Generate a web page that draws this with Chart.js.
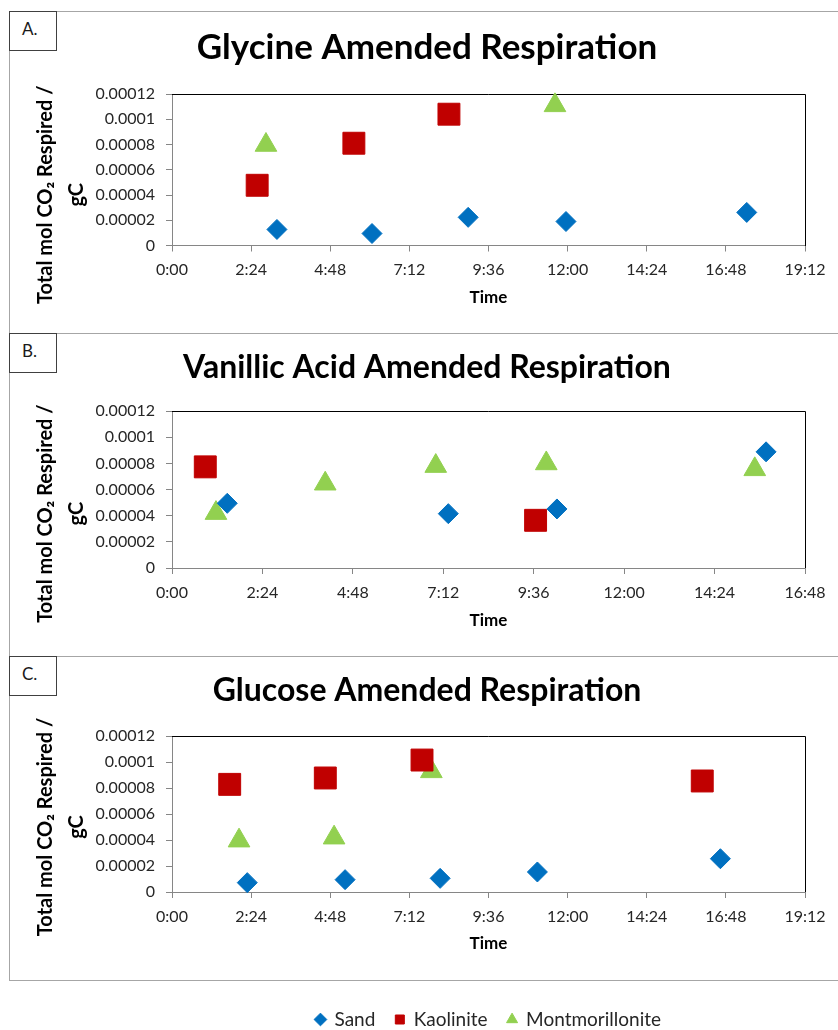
<!DOCTYPE html>
<html>
<head>
<meta charset="utf-8">
<script src="https://cdn.jsdelivr.net/npm/chart.js@4.4.1/dist/chart.umd.min.js"></script>
<style>
  body { margin: 0; width: 838px; height: 1030px; overflow: hidden; background: #fff; position: relative; font-family: Lato, sans-serif; }
  .frame { position: absolute; left: 9px; top: 11px; width: 840px; height: 970px; border: 1px solid #a6a6a6; border-right: none; box-sizing: border-box; }
  .divider { position: absolute; left: 9px; width: 840px; border-top: 1px solid #a6a6a6; }
  .tag { position: absolute; left: 9px; width: 48px; height: 40px; border: 1px solid #404040; box-sizing: border-box; background: #fff; font-size: 17px; color: #1a1a1a; padding: 6px 0 0 12px; }
  canvas { position: absolute; left: 9px; }
</style>
</head>
<body>
<div class="frame"></div>
<div class="divider" style="top:333px"></div>
<div class="divider" style="top:656px"></div>
<div class="tag" style="top:11px">A.</div>
<div class="tag" style="top:333px">B.</div>
<div class="tag" style="top:656px">C.</div>
<canvas id="chartA" width="836" height="322" style="top:11px"></canvas>
<canvas id="chartB" width="836" height="323" style="top:333px"></canvas>
<canvas id="chartC" width="836" height="382" style="top:657px"></canvas>
<script>
// time in minutes since start, values in total mol CO2 respired / gC
const SERIES = ['Sand', 'Kaolinite', 'Montmorillonite'];

const GLY_SAND_X = [191, 364, 539, 717, 1046];
const GLY_SAND_Y = [0.0000127, 0.0000095, 0.0000223, 0.000019, 0.0000262];
const GLY_KAO_X = [155, 331, 504];
const GLY_KAO_Y = [0.0000477, 0.000081, 0.000104];
const GLY_MONT_X = [171, 697];
const GLY_MONT_Y = [0.0000796, 0.000111];

const VAN_SAND_X = [88, 440, 613, 946];
const VAN_SAND_Y = [0.0000495, 0.0000416, 0.0000452, 0.0000889];
const VAN_KAO_X = [53, 579];
const VAN_KAO_Y = [0.0000774, 0.0000365];
const VAN_MONT_X = [70, 244, 420, 596, 928];
const VAN_MONT_Y = [0.000042, 0.0000645, 0.000078, 0.00008, 0.0000755];

const GLU_SAND_X = [137, 315, 488, 665, 998];
const GLU_SAND_Y = [0.0000072, 0.0000095, 0.0000105, 0.0000154, 0.0000256];
const GLU_KAO_X = [105, 279, 455, 965];
const GLU_KAO_Y = [0.0000828, 0.0000877, 0.0001015, 0.0000854];
const GLU_MONT_X = [122, 295, 472];
const GLU_MONT_Y = [0.0000395, 0.0000418, 0.0000928];

const X_TICKS_LONG = ['0:00', '2:24', '4:48', '7:12', '9:36', '12:00', '14:24', '16:48', '19:12'];
const X_TICKS_SHORT = ['0:00', '2:24', '4:48', '7:12', '9:36', '12:00', '14:24', '16:48'];
const Y_TICKS = ['0', '0.00002', '0.00004', '0.00006', '0.00008', '0.0001', '0.00012'];
const Y_TITLE = ['Total mol CO\u2082 Respired /', 'gC'];

const FONT = 'Lato';
const STYLES = [
  { color: '#0070C0', pointStyle: 'rectRot', radius: 10 },
  { color: '#C00000', pointStyle: 'rect', radius: 15.5 },
  { color: '#92D050', pointStyle: 'triangle', radius: 12.5 }
];

const pts = (xs, ys) => xs.map((x, i) => ({ x, y: ys[i] }));

// y axis title, placed like the Excel one (not centred on the plot)
const yTitlePlugin = {
  id: 'yTitle',
  afterDraw(chart, args, opts) {
    const { ctx, chartArea } = chart;
    const dy = Number(opts.offsetY) || 0;
    ctx.save();
    ctx.translate(opts.left, (chartArea.top + chartArea.bottom) / 2 + dy);
    ctx.rotate(-Math.PI / 2);
    ctx.font = `bold 20px ${FONT}`;
    ctx.fillStyle = '#000';
    ctx.textAlign = 'center';
    ctx.textBaseline = 'middle';
    Y_TITLE.forEach((line, i) => ctx.fillText(line, 0, i * 31));
    ctx.restore();
  }
};

// dark top and right edge of the plot area
const plotBorder = {
  id: 'plotBorder',
  beforeDatasetsDraw(chart) {
    const { ctx, chartArea: { left, top, right, bottom } } = chart;
    ctx.save();
    ctx.strokeStyle = '#000';
    ctx.lineWidth = 1;
    ctx.beginPath();
    ctx.moveTo(Math.round(left), Math.round(top) + 0.5);
    ctx.lineTo(Math.round(right) + 0.5, Math.round(top) + 0.5);
    ctx.lineTo(Math.round(right) + 0.5, Math.round(bottom));
    ctx.stroke();
    ctx.restore();
  }
};

const makeChart = (id, p) => {
  const datasets = p.series.map((s, i) => ({
    label: SERIES[i],
    data: pts(s[0], s[1]),
    backgroundColor: STYLES[i].color,
    borderColor: STYLES[i].color,
    borderWidth: 1,
    pointStyle: STYLES[i].pointStyle,
    pointRadius: STYLES[i].radius,
    clip: false
  }));

  return new Chart(document.getElementById(id), {
    type: 'scatter',
    data: { datasets },
    plugins: [yTitlePlugin, plotBorder],
    options: {
      responsive: false,
      animation: false,
      layout: { padding: { left: 40, right: 40 } },
      plugins: {
        tooltip: { enabled: false },
        title: {
          display: true,
          text: p.title,
          color: '#000',
          font: { family: FONT, size: p.titleSize, weight: 'bold' },
          padding: { top: p.titlePad[0], bottom: p.titlePad[1] }
        },
        legend: p.legend ? {
          display: true,
          position: 'bottom',
          fullSize: false,
          labels: {
            usePointStyle: true,
            boxHeight: 9,
            boxWidth: 9,
            padding: 20,
            color: '#262626',
            font: { family: FONT, size: 19 }
          }
        } : { display: false },
        yTitle: { left: 37, offsetY: p.yShift }
      },
      scales: {
        x: {
          type: 'linear',
          min: 0,
          max: (p.xTicks.length - 1) * 144,
          afterFit: s => { s.height = p.xHeight; },
          grid: { drawOnChartArea: false, drawTicks: true, tickLength: 6, color: '#868686' },
          border: { display: true, color: '#868686' },
          ticks: {
            stepSize: 144,
            autoSkip: false,
            maxRotation: 0,
            padding: 9,
            color: '#262626',
            font: { family: FONT, size: 16 },
            callback: (v, i) => p.xTicks[i]
          },
          title: {
            display: true,
            text: 'Time',
            color: '#000',
            font: { family: FONT, size: 17, weight: 'bold' },
            padding: { top: 0, bottom: p.timePad }
          }
        },
        y: {
          min: 0,
          max: 0.00012,
          afterFit: s => { s.width = 123; },
          grid: { drawOnChartArea: false, drawTicks: true, tickLength: 6, color: '#868686' },
          border: { display: true, color: '#868686' },
          ticks: {
            stepSize: 0.00002,
            padding: 11,
            color: '#262626',
            font: { family: FONT, size: 16 },
            callback: (v, i) => Y_TICKS[i]
          }
        }
      }
    }
  });
};

makeChart('chartA', {
  title: 'Glycine Amended Respiration',
  titleSize: 35,
  titlePad: [16, 25],
  xTicks: X_TICKS_LONG,
  xHeight: 87.5,
  timePad: 24.8,
  yShift: 25,
  series: [[GLY_SAND_X, GLY_SAND_Y], [GLY_KAO_X, GLY_KAO_Y], [GLY_MONT_X, GLY_MONT_Y]]
});

makeChart('chartB', {
  title: 'Vanillic Acid Amended Respiration',
  titleSize: 32,
  titlePad: [15.3, 24.5],
  xTicks: X_TICKS_SHORT,
  xHeight: 88,
  timePad: 24.8,
  yShift: 24,
  series: [[VAN_SAND_X, VAN_SAND_Y], [VAN_KAO_X, VAN_KAO_Y], [VAN_MONT_X, VAN_MONT_Y]]
});

makeChart('chartC', {
  title: 'Glucose Amended Respiration',
  titleSize: 32,
  titlePad: [14.8, 25.8],
  xTicks: X_TICKS_LONG,
  xHeight: 98,
  timePad: 35.8,
  yShift: 13,
  legend: true,
  series: [[GLU_SAND_X, GLU_SAND_Y], [GLU_KAO_X, GLU_KAO_Y], [GLU_MONT_X, GLU_MONT_Y]]
});
</script>
</body>
</html>
